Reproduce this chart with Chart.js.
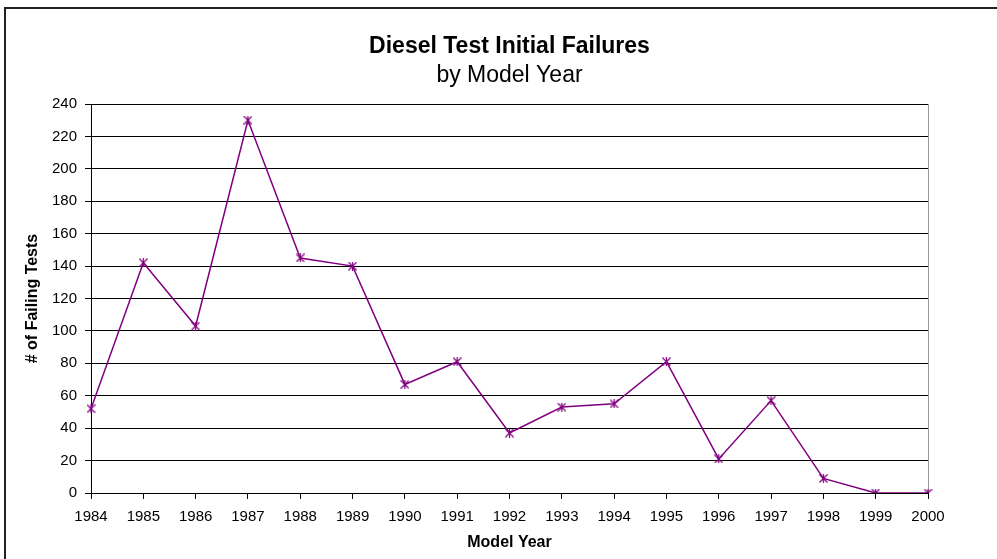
<!DOCTYPE html>
<html>
<head>
<meta charset="utf-8">
<script src="https://cdn.jsdelivr.net/npm/chart.js@4"></script>
<style>
  html, body { margin: 0; padding: 0; background: #fff; }
  #wrap { width: 997px; height: 559px; position: relative; }
</style>
</head>
<body>
<div id="wrap"><canvas id="grafico" width="997" height="559"></canvas></div>
<script>
const anos = ['1984', '1985', '1986', '1987', '1988', '1989', '1990', '1991', '1992',
              '1993', '1994', '1995', '1996', '1997', '1998', '1999', '2000'];
const falhas = [52, 142, 103, 230, 145, 140, 67, 81, 37, 53, 55, 81, 21, 57, 9, 0, 0];
const yMin = 0;
const yMax = 240;
const yStep = 20;

const fonte = '"Liberation Sans", Arial, sans-serif';
const roxo = '#800080';

// marcador estilo Excel: X com traco vertical
function criarMarcador() {
    const c = document.createElement('canvas');
    c.width = 9;
    c.height = 9;
    const g = c.getContext('2d');
    g.strokeStyle = roxo;
    g.lineWidth = 1.2;
    g.beginPath();
    g.moveTo(0.5, 0.5); g.lineTo(8.5, 8.5);
    g.moveTo(8.5, 0.5); g.lineTo(0.5, 8.5);
    g.moveTo(4.5, 0); g.lineTo(4.5, 9);
    g.stroke();
    return c;
}

// moldura do grafico (cantos superior e esquerdo)
const moldura = {
    id: 'moldura',
    beforeDraw(chart) {
        const ctx = chart.ctx;
        ctx.save();
        ctx.fillStyle = '#fff';
        ctx.fillRect(0, 0, chart.width, chart.height);
        ctx.strokeStyle = '#222';
        ctx.lineWidth = 2;
        ctx.beginPath();
        ctx.moveTo(5, chart.height);
        ctx.lineTo(5, 8);
        ctx.lineTo(chart.width, 8);
        ctx.stroke();
        ctx.restore();
    }
};

const ctx = document.getElementById('grafico');
new Chart(ctx.getContext('2d'), {
    type: 'line',
    data: {
        labels: anos,
        datasets: [{
            label: 'Failing Tests',
            data: falhas,
            borderColor: roxo,
            backgroundColor: roxo,
            borderWidth: 1.5,
            tension: 0,
            pointStyle: criarMarcador(),
            pointRadius: 4,
            pointHoverRadius: 4
        }]
    },
    options: {
        responsive: false,
        animation: false,
        events: [],
        layout: {
            padding: { left: 5, right: 69, top: 8, bottom: 0 }
        },
        scales: {
            x: {
                type: 'category',
                offset: false,
                afterFit(scale) { scale.height = 66; },
                grid: {
                    offset: false,
                    drawOnChartArea: true,
                    color: c => (c.index === anos.length - 1 ? '#9a9a9a' : 'rgba(0,0,0,0)'),
                    tickColor: '#000',
                    tickLength: 6
                },
                border: { color: '#000', width: 1 },
                ticks: {
                    color: '#000',
                    font: { family: fonte, size: 15 },
                    padding: 9,
                    maxRotation: 0,
                    autoSkip: false
                },
                title: {
                    display: true,
                    text: 'Model Year',
                    color: '#000',
                    font: { family: fonte, size: 16, weight: 'bold' },
                    padding: { top: 0, bottom: 7 }
                }
            },
            y: {
                min: yMin,
                max: yMax,
                afterFit(scale) { scale.width = 86; },
                grid: {
                    color: '#000',
                    tickColor: '#000',
                    tickLength: 6
                },
                border: { color: '#000', width: 1 },
                ticks: {
                    stepSize: yStep,
                    color: '#000',
                    font: { family: fonte, size: 15 },
                    padding: 8
                },
                title: {
                    display: true,
                    text: '# of Failing Tests',
                    color: '#000',
                    font: { family: fonte, size: 16, weight: 'bold' },
                    padding: { top: 18, bottom: 0 }
                }
            }
        },
        plugins: {
            legend: { display: false },
            tooltip: { enabled: false },
            title: {
                display: true,
                text: 'Diesel Test Initial Failures',
                fullSize: false,
                color: '#000',
                font: { family: fonte, size: 23, weight: 'bold', lineHeight: 1 },
                padding: { top: 27, bottom: 0 }
            },
            subtitle: {
                display: true,
                text: 'by Model Year',
                fullSize: false,
                color: '#000',
                font: { family: fonte, size: 23, lineHeight: 1 },
                padding: { top: 6, bottom: 17 }
            }
        }
    },
    plugins: [moldura]
});
</script>
</body>
</html>
